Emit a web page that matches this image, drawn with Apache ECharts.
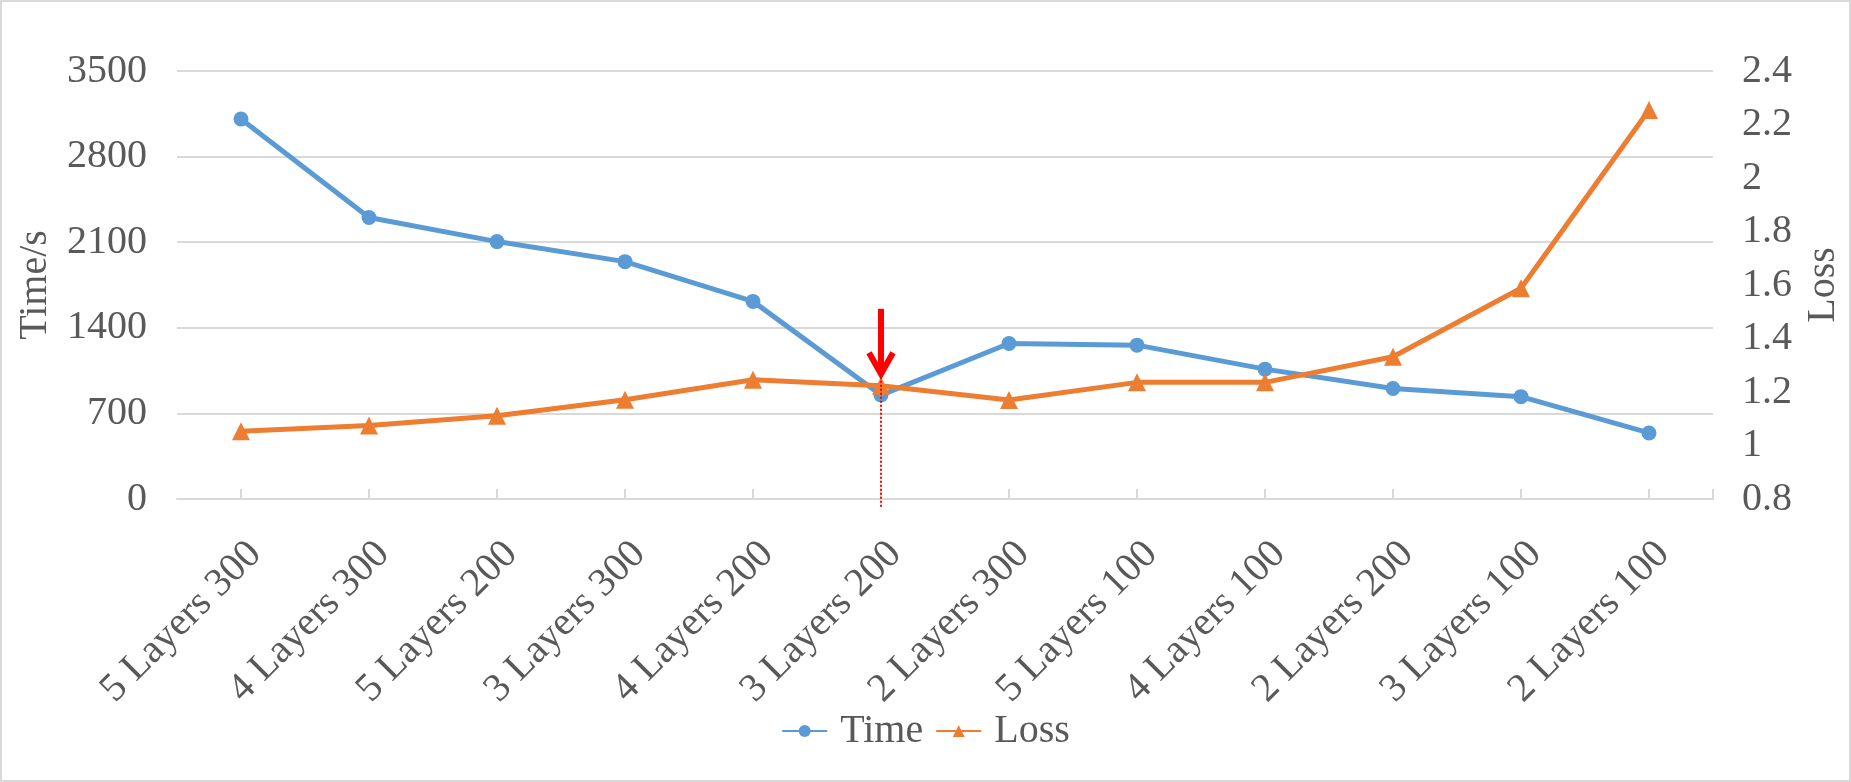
<!DOCTYPE html>
<html>
<head>
<meta charset="utf-8">
<script src="https://cdn.jsdelivr.net/npm/echarts@6/dist/echarts.min.js"></script>
<style>
html,body{margin:0;padding:0;background:#fff;}
#chart{width:1851px;height:782px;}
</style>
</head>
<body>
<div id="chart"></div>
<script>
const categories = ['5 Layers 300','4 Layers 300','5 Layers 200','3 Layers 300','4 Layers 200','3 Layers 200','2 Layers 300','5 Layers 100','4 Layers 100','2 Layers 200','3 Layers 100','2 Layers 100'];
const timeValues = [3108, 2302, 2105, 1941, 1616, 850, 1272, 1258, 1062, 904, 837, 540];
const lossValues = [1.053, 1.075, 1.111, 1.171, 1.246, 1.223, 1.170, 1.236, 1.236, 1.332, 1.588, 2.254];
const timeAxis = {min: 0, max: 3500, interval: 700, name: 'Time/s'};
const lossAxis = {min: 0.8, max: 2.4, interval: 0.2, name: 'Loss'};
const markedCategory = '3 Layers 200';

const FONT = 'Liberation Serif';
const TXT = '#595959';
const GRID = '#d9d9d9';
const BLUE = '#5b9bd5';
const ORANGE = '#ed7d31';

const chart = echarts.init(document.getElementById('chart'), null, {renderer: 'canvas'});
const option = {
  backgroundColor: '#fff',
  animation: false,
  textStyle: {fontFamily: FONT, color: TXT},
  grid: {left: 177, right: 137, top: 71, bottom: 283, containLabel: false},
  legend: {
    top: 706, left: 'center',
    itemWidth: 45, itemHeight: 15, itemGap: 12,
    textStyle: {fontFamily: FONT, fontSize: 40, color: TXT, padding: [0, 0, 0, 8]},
    data: ['Time', 'Loss']
  },
  xAxis: {
    type: 'category', data: categories, boundaryGap: true,
    axisLine: {show: true, lineStyle: {color: GRID, width: 2}},
    axisTick: {show: true, alignWithLabel: true, inside: true, length: 10, lineStyle: {color: GRID, width: 2}},
    axisLabel: {rotate: 45, fontFamily: FONT, fontSize: 40, color: TXT, margin: 35, interval: 0,
      verticalAlign: 'top'}
  },
  yAxis: [
    {
      type: 'value', min: timeAxis.min, max: timeAxis.max, interval: timeAxis.interval,
      name: timeAxis.name, nameLocation: 'middle', nameRotate: 90, nameGap: 122,
      nameTextStyle: {fontFamily: FONT, fontSize: 40, color: TXT},
      axisLine: {show: false}, axisTick: {show: false},
      axisLabel: {fontFamily: FONT, fontSize: 40, color: TXT, margin: 30, formatter: v => String(v)},
      splitLine: {lineStyle: {color: GRID, width: 2}}
    },
    {
      type: 'value', min: lossAxis.min, max: lossAxis.max, interval: lossAxis.interval, position: 'right',
      name: lossAxis.name, nameLocation: 'middle', nameRotate: 90, nameGap: 90,
      nameTextStyle: {fontFamily: FONT, fontSize: 40, color: TXT},
      axisLine: {show: false}, axisTick: {show: false},
      axisLabel: {fontFamily: FONT, fontSize: 40, color: TXT, margin: 29,
        formatter: v => String(+v.toFixed(1))},
      splitLine: {show: false}
    }
  ],
  series: [
    {
      name: 'Time', type: 'line', yAxisIndex: 0, data: timeValues,
      symbol: 'circle', symbolSize: 15,
      lineStyle: {color: BLUE, width: 5}, itemStyle: {color: BLUE}, z: 3
    },
    {
      name: 'Loss', type: 'line', yAxisIndex: 1, data: lossValues,
      symbol: 'triangle', symbolSize: 18,
      lineStyle: {color: ORANGE, width: 5}, itemStyle: {color: ORANGE}, z: 4
    }
  ]
};
chart.setOption(option);

// annotation anchored to the data point of the marked category
const idx = categories.indexOf(markedCategory);
const px = chart.convertToPixel({xAxisIndex: 0}, markedCategory);
const py = chart.convertToPixel({yAxisIndex: 1}, lossValues[idx]);
const gridBottom = chart.convertToPixel({yAxisIndex: 0}, timeAxis.min);
const gridRight = chart.convertToPixel({xAxisIndex: 0}, categories[categories.length - 1]) + (px - chart.convertToPixel({xAxisIndex: 0}, categories[idx - 1])) / 2;
const tipY = py - 9;
chart.setOption({
  graphic: [
    {type: 'rect', shape: {x: 1, y: 1, width: 1849, height: 780}, style: {fill: 'none', stroke: GRID, lineWidth: 2}, silent: true},
    {type: 'line', shape: {x1: gridRight, y1: gridBottom, x2: gridRight, y2: gridBottom - 10}, style: {stroke: GRID, lineWidth: 2}, silent: true},
    {type: 'line', shape: {x1: px, y1: tipY, x2: px, y2: gridBottom + 9}, style: {stroke: '#ff0000', lineWidth: 2, lineDash: [2, 2]}, z: 10},
    {type: 'line', shape: {x1: px, y1: tipY - 68, x2: px, y2: tipY - 3}, style: {stroke: '#ff0000', lineWidth: 6}, z: 10},
    {type: 'polyline', shape: {points: [[px - 12, tipY - 24], [px, tipY - 3], [px + 12, tipY - 24]]}, style: {stroke: '#ff0000', lineWidth: 6, fill: 'none', lineJoin: 'miter'}, z: 10}
  ]
});
</script>
</body>
</html>
